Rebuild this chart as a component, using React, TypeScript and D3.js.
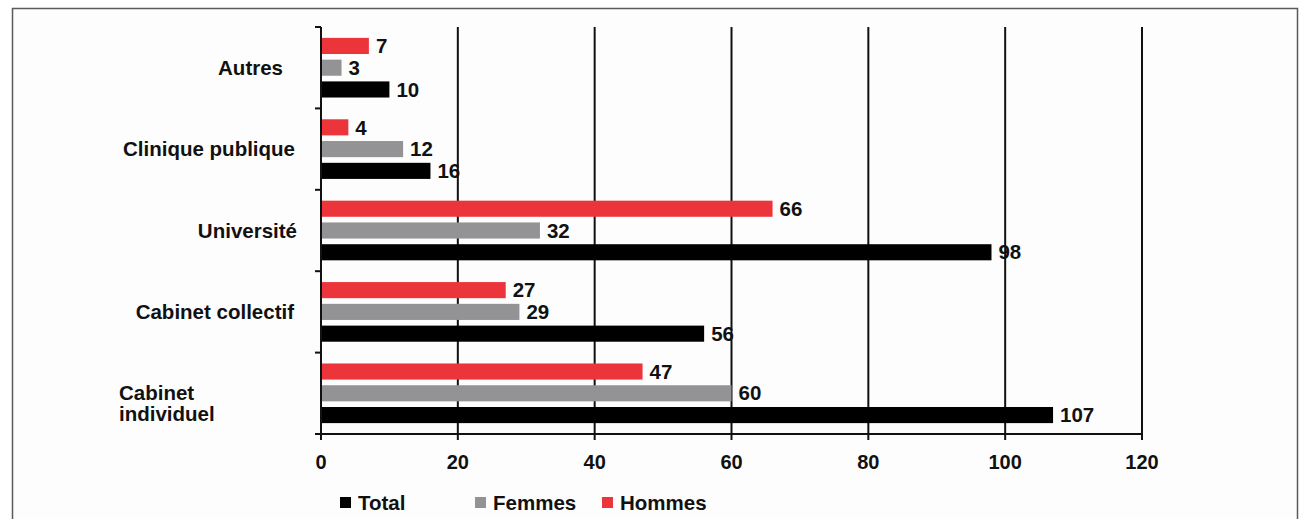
import React from "react";
import * as d3 from "d3";

// Lieux d'exercice, par sexe
const categories = ["Autres", "Clinique publique", "Université", "Cabinet collectif", "Cabinet individuel"];
const seriesNames = ["Hommes", "Femmes", "Total"];
const hommes = [7, 4, 66, 27, 47];
const femmes = [3, 12, 32, 29, 60];
const total = [10, 16, 98, 56, 107];
const xTicks = [0, 20, 40, 60, 80, 100, 120];
const legendNames = ["Total", "Femmes", "Hommes"];

const W = 1302;
const H = 519;
const FONT = "'Liberation Sans', Arial, Helvetica, sans-serif";
const FS = 20.5;

const colors: Record<string, string> = {
  Hommes: "#ec353b",
  Femmes: "#939395",
  Total: "#000000",
};

// category label placement (line breaks and alignment per label)
const labelLayout: Record<string, { lines: string[]; anchor: string; dx: number; dy: number }> = {
  "Autres": { lines: ["Autres"], anchor: "end", dx: -38, dy: 0 },
  "Clinique publique": { lines: ["Clinique publique"], anchor: "end", dx: -26, dy: 0 },
  "Université": { lines: ["Université"], anchor: "end", dx: -24, dy: 0 },
  "Cabinet collectif": { lines: ["Cabinet collectif"], anchor: "end", dx: -27, dy: 0 },
  "Cabinet individuel": { lines: ["Cabinet", "individuel"], anchor: "start", dx: -202, dy: 10 },
};

export default function App() {
  const x = d3.scaleLinear().domain([0, 120]).range([321, 1142]);
  const y0 = d3.scaleBand<string>().domain(categories).range([27, 434]).padding(0);
  const y1 = d3
    .scaleBand<string>()
    .domain(seriesNames)
    .range([0, y0.bandwidth()])
    .paddingInner(0.26)
    .paddingOuter(0.5);

  const values: Record<string, number[]> = { Hommes: hommes, Femmes: femmes, Total: total };
  const axisY = y0.range()[1];
  const top = y0.range()[0];

  const bandEdges = [...categories.map((c) => y0(c) as number), axisY];

  return (
    <svg
      width={W}
      height={H}
      style={{ position: "absolute", left: 0, top: 0, background: "#ffffff" }}
      fontFamily={FONT}
    >
      {/* frame */}
      <rect x={12.5} y={8.5} width={1285} height={530} fill="#fdfdfd" stroke="#5a5a5a" strokeWidth={1.5} />

      {/* vertical gridlines */}
      {xTicks
        .filter((t) => t > 0)
        .map((t) => (
          <line key={"g" + t} x1={x(t)} x2={x(t)} y1={top} y2={axisY} stroke="#111" strokeWidth={2} />
        ))}

      {/* bars */}
      {categories.map((c, i) => (
        <g key={c} transform={`translate(0,${y0(c)})`}>
          {seriesNames.map((s) => {
            const v = values[s][i];
            const by = y1(s) as number;
            return (
              <g key={s}>
                <rect
                  x={x(0)}
                  y={by}
                  width={x(v) - x(0)}
                  height={y1.bandwidth()}
                  fill={colors[s]}
                />
                <text
                  x={x(v) + 7}
                  y={by + y1.bandwidth() / 2}
                  dy="0.35em"
                  fontSize={FS}
                  fontWeight="bold"
                  fill="#111"
                >
                  {v}
                </text>
              </g>
            );
          })}
        </g>
      ))}

      {/* y axis */}
      <line x1={x(0)} x2={x(0)} y1={top} y2={axisY + 6} stroke="#111" strokeWidth={2} />
      {bandEdges.map((e, i) => (
        <line key={"yt" + i} x1={x(0) - 6} x2={x(0)} y1={e} y2={e} stroke="#111" strokeWidth={2} />
      ))}

      {/* x axis */}
      <line x1={x(0) - 6} x2={x(120)} y1={axisY} y2={axisY} stroke="#111" strokeWidth={2} />
      {xTicks.map((t) => (
        <g key={"xt" + t}>
          <line x1={x(t)} x2={x(t)} y1={axisY} y2={axisY + 6} stroke="#111" strokeWidth={2} />
          <text x={x(t)} y={462} dy="0.35em" textAnchor="middle" fontSize={FS - 0.5} fontWeight="bold" fill="#111">
            {t}
          </text>
        </g>
      ))}

      {/* category labels */}
      {categories.map((c) => {
        const L = labelLayout[c];
        const cy = (y0(c) as number) + y0.bandwidth() / 2 + L.dy;
        const lh = 21;
        const startY = cy - ((L.lines.length - 1) * lh) / 2;
        return (
          <text
            key={"lab" + c}
            x={x(0) + L.dx}
            textAnchor={L.anchor}
            fontSize={FS}
            fontWeight="bold"
            fill="#111"
          >
            {L.lines.map((ln, k) => (
              <tspan key={k} x={x(0) + L.dx} y={startY + k * lh} dy="0.35em">
                {ln}
              </tspan>
            ))}
          </text>
        );
      })}

      {/* legend */}
      {legendNames.map((n, i) => {
        const lx = [340, 475, 602][i];
        return (
          <g key={"lg" + n}>
            <rect x={lx} y={497} width={11} height={11} fill={colors[n]} />
            <text x={lx + 18} y={503} dy="0.35em" fontSize={FS} fontWeight="bold" fill="#111">
              {n}
            </text>
          </g>
        );
      })}
    </svg>
  );
}
